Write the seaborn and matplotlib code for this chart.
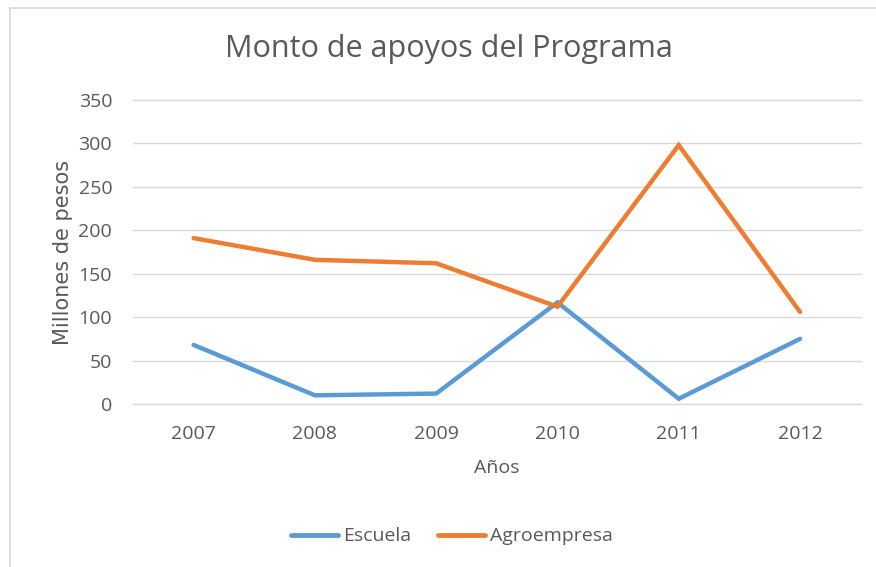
import pandas as pd
import matplotlib.pyplot as plt
import seaborn as sns
from matplotlib.lines import Line2D

years = ['2007', '2008', '2009', '2010', '2011', '2012']
escuela = [68, 10, 12, 117, 6, 75]
agroempresa = [191, 166, 162, 112, 298, 106]
series_names = ['Escuela', 'Agroempresa']
colors = ['#5B9BD5', '#ED7D31']
yticks = [0, 50, 100, 150, 200, 250, 300, 350]

df = pd.DataFrame({
    'Año': years * 2,
    'Monto': escuela + agroempresa,
    'Serie': [series_names[0]] * len(years) + [series_names[1]] * len(years),
})

sns.set_style('white')
plt.rcParams['font.family'] = ['Open Sans', 'DejaVu Sans']
txt = '#595959'

fig = plt.figure(figsize=(8.76, 5.67), dpi=100)
ax = fig.add_axes([0.1518, 0.2875, 0.8307, 0.5361])

sns.lineplot(data=df, x='Año', y='Monto', hue='Serie', palette=colors,
             linewidth=3.2, sort=False, ax=ax, legend=False,
             solid_capstyle='round', solid_joinstyle='miter')

ax.set_xlim(-0.5, len(years) - 0.5)
ax.set_ylim(0, 350)
ax.set_yticks(yticks)
ax.grid(axis='y', color='#D9D9D9', linewidth=1)
for gl in ax.get_ygridlines():
    gl.set_clip_on(False)
ax.set_axisbelow(True)
for s in ax.spines.values():
    s.set_visible(False)
ax.tick_params(axis='both', length=0, labelsize=14, labelcolor=txt)
ax.tick_params(axis='y', pad=15)
ax.tick_params(axis='x', pad=15)

ax.set_xlabel('Años', fontsize=14, color=txt, labelpad=12)
ax.set_ylabel('Millones de pesos', fontsize=15, color=txt, labelpad=4,
              family='DejaVu Sans')
fig.text(0.513, 0.913, 'Monto de apoyos del Programa', ha='center', va='center',
         fontsize=22, color=txt)

handles = [Line2D([], [], color=c, linewidth=3.5, solid_capstyle='round') for c in colors]
fig.legend(handles, series_names, loc='center', bbox_to_anchor=(0.516, 0.054),
           ncol=2, frameon=False, fontsize=14, labelcolor=txt,
           handlelength=2.4, handletextpad=0.25, columnspacing=1.4)

# outer chart border
fig.add_artist(Line2D([9.5 / 876, 9.5 / 876], [0, 1 - 7.5 / 567], color='#D9D9D9', linewidth=1.2))
fig.add_artist(Line2D([9.5 / 876, 1], [1 - 7.5 / 567, 1 - 7.5 / 567], color='#D9D9D9', linewidth=1.2))

fig.savefig('out.png', dpi=100)
